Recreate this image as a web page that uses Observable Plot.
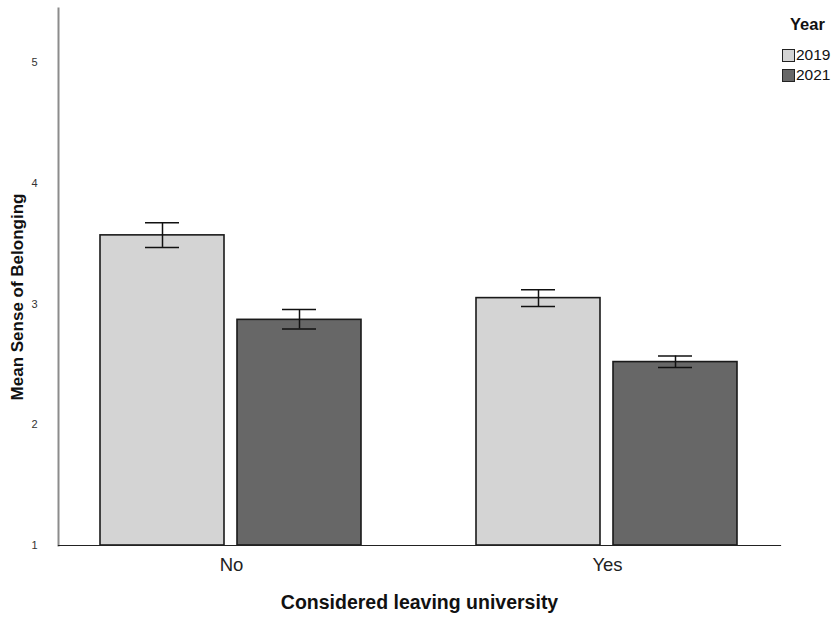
<!DOCTYPE html>
<html>
<head>
<meta charset="utf-8">
<script src="https://cdn.jsdelivr.net/npm/d3@7"></script>
<script src="https://cdn.jsdelivr.net/npm/@observablehq/plot@0.6"></script>
<style>
  body { margin: 0; background: #fff; font-family: "Liberation Sans", Arial, sans-serif; }
  #wrap { position: relative; width: 839px; height: 617px; }
  #legend { position: absolute; left: 782px; top: 15px; font-family: "Liberation Sans", Arial, sans-serif; color: #111; }
  #legend .title { font-weight: bold; font-size: 16.5px; margin-left: 8px; margin-bottom: 11px; }
  #legend .item { display: flex; align-items: center; font-size: 15.5px; height: 20px; }
  #legend .sw { width: 11px; height: 11px; border: 1.5px solid #222; margin-right: 1px; }
</style>
</head>
<body>
<div id="wrap"><div id="legend"></div></div>
<script>
const categories = ["No", "Yes"];
const years = ["2019", "2021"];
const mean2019 = [3.57, 3.05];
const mean2021 = [2.87, 2.52];
const lower2019 = [3.47, 2.98];
const upper2019 = [3.675, 3.12];
const lower2021 = [2.795, 2.475];
const upper2021 = [2.955, 2.57];
const yTicks = [1, 2, 3, 4, 5];
const yearColors = ["#d4d4d4", "#676767"];

const data = [];
categories.forEach((c, i) => {
  data.push({cat: c, year: years[0], mean: mean2019[i], lo: lower2019[i], hi: upper2019[i]});
  data.push({cat: c, year: years[1], mean: mean2021[i], lo: lower2021[i], hi: upper2021[i]});
});

const chart = Plot.plot({
  width: 839,
  height: 617,
  marginLeft: 58,
  marginRight: 59,
  marginTop: 8,
  marginBottom: 72,
  style: {fontFamily: "'Liberation Sans', Arial, sans-serif", background: "#fff"},
  fx: {domain: categories, paddingInner: 0.08, paddingOuter: 0, label: null},
  x: {domain: years, paddingInner: 0.0945, paddingOuter: 0.305, axis: null},
  y: {domain: [1, 5.45]},
  color: {domain: years, range: yearColors},
  marks: [
    Plot.barY(data, {fx: "cat", x: "year", y1: 1, y2: "mean", fill: "year", stroke: "#1a1a1a", strokeWidth: 1.6}),
    Plot.ruleX(data, {fx: "cat", x: "year", y1: "lo", y2: "hi", stroke: "#111", strokeWidth: 1.5}),
    Plot.tickY(data, {fx: "cat", x: "year", y: "lo", insetLeft: 45, insetRight: 45, stroke: "#111", strokeWidth: 1.5}),
    Plot.tickY(data, {fx: "cat", x: "year", y: "hi", insetLeft: 45, insetRight: 45, stroke: "#111", strokeWidth: 1.5}),
    Plot.frame({anchor: "left", facet: "super", stroke: "#8c8c8c", strokeWidth: 2}),
    Plot.frame({anchor: "bottom", facet: "super", stroke: "#222", strokeWidth: 1.2}),
    Plot.axisY({ticks: yTicks, tickFormat: "d", tickSize: 0, tickPadding: 21, fontSize: 11, label: null, color: "#333"}),
    Plot.axisFx({anchor: "bottom", tickSize: 0, tickPadding: 12, fontSize: 18.5, label: null, color: "#222"}),
    Plot.text(["Mean Sense of Belonging"], {facet: "super", text: d => d, frameAnchor: "left", textAnchor: "middle", rotate: -90, dx: -41, dy: 20, fontWeight: "bold", fontSize: 17, fill: "#111"}),
    Plot.text(["Considered leaving university"], {facet: "super", text: d => d, frameAnchor: "bottom", dy: 63, fontWeight: "bold", fontSize: 19.5, fill: "#111"})
  ]
});
document.getElementById("wrap").prepend(chart);

const legend = document.getElementById("legend");
const t = document.createElement("div");
t.className = "title";
t.textContent = "Year";
legend.appendChild(t);
years.forEach((y, i) => {
  const it = document.createElement("div");
  it.className = "item";
  const sw = document.createElement("span");
  sw.className = "sw";
  sw.style.background = yearColors[i];
  const lab = document.createElement("span");
  lab.textContent = y;
  it.appendChild(sw);
  it.appendChild(lab);
  legend.appendChild(it);
});
</script>
</body>
</html>
